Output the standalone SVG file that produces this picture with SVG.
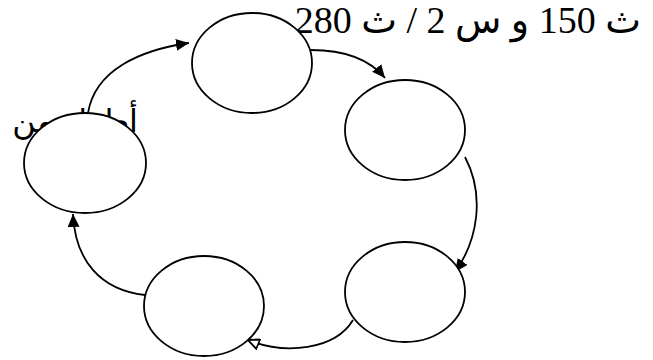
<svg xmlns="http://www.w3.org/2000/svg" width="653" height="360" viewBox="0 0 653 360">
<defs>
<marker id="ah" markerUnits="userSpaceOnUse" markerWidth="14" markerHeight="12" refX="13" refY="6" orient="auto">
<path d="M0,0 L13,6 L0,12 z" fill="#000"/>
</marker>
<marker id="ah-open" markerUnits="userSpaceOnUse" markerWidth="14" markerHeight="12" refX="12" refY="6" orient="auto">
<path d="M1,1 L12,6 L1,11 z" fill="#fff" stroke="#000" stroke-width="1.8"/>
</marker>
</defs>
<style>
.n{fill:#fff;stroke:#000;stroke-width:1.8}
.c{fill:none;stroke:#000;stroke-width:1.8}
.t{font-family:"Liberation Serif","DejaVu Sans",serif;fill:#000}
.a{font-family:"DejaVu Sans",sans-serif;fill:#000}
</style>
<rect width="653" height="360" fill="#fff"/>
<text class="t" x="641" y="33" font-size="38" text-anchor="end">ث 150 و س 2 / ث 280</text>
<text class="a" x="138" y="132" font-size="32" direction="rtl" text-anchor="start">أطول    من</text>
<g id="connectors">
<path class="c" d="M88,113 C95,70 140,50 189,43" marker-end="url(#ah)"/>
<path class="c" d="M311,50 C345,50 370,60 385,78" marker-end="url(#ah)"/>
<path class="c" d="M465,157 C485,195 478,240 455,272" marker-end="url(#ah)"/>
<path class="c" d="M353,320 C335,350 285,355 248,340" marker-end="url(#ah-open)"/>
<path class="c" d="M145,295 C100,290 75,260 73,214" marker-end="url(#ah)"/>
</g>
<g id="node-top"><ellipse class="n" cx="252" cy="63" rx="60" ry="50"/></g>
<g id="node-right-upper"><ellipse class="n" cx="405" cy="130" rx="60" ry="50"/></g>
<g id="node-right-lower"><ellipse class="n" cx="405" cy="292" rx="60" ry="50"/></g>
<g id="node-bottom"><ellipse class="n" cx="204" cy="306" rx="60" ry="50"/></g>
<g id="node-left"><ellipse class="n" cx="85" cy="163" rx="61" ry="50"/></g>
</svg>
